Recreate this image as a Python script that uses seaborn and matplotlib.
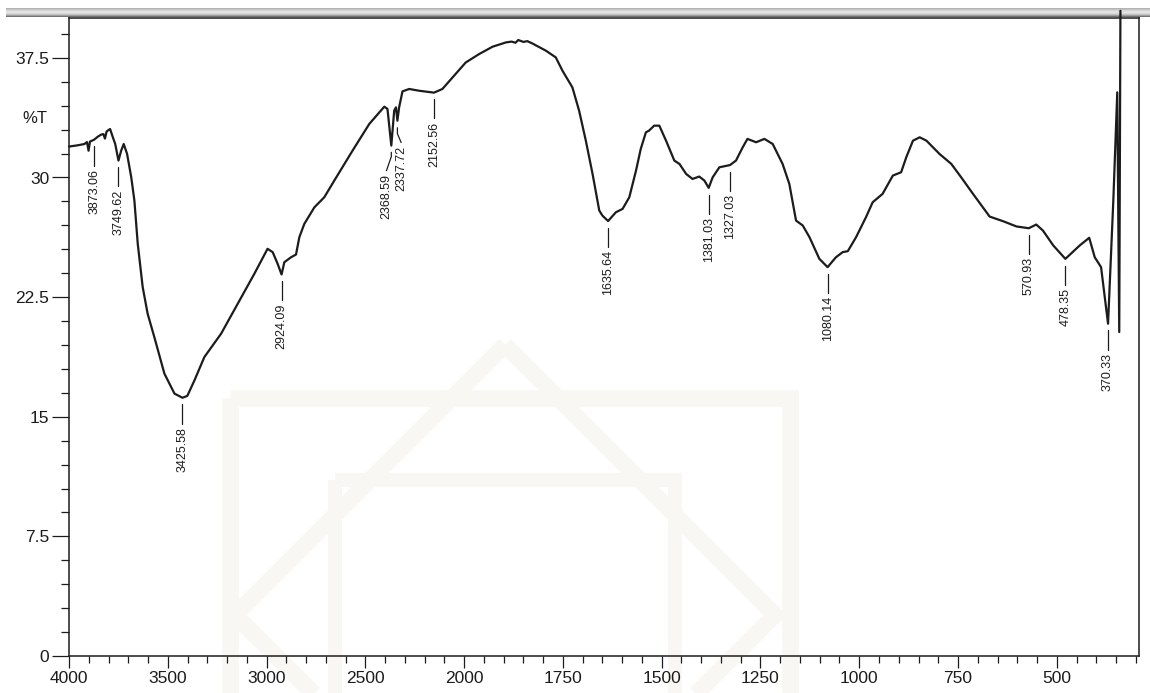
import numpy as np
import pandas as pd
import matplotlib
matplotlib.use("Agg")
import matplotlib.pyplot as plt
import matplotlib.transforms as mtransforms
from matplotlib.patches import Rectangle, Polygon
from matplotlib.ticker import FixedLocator, MultipleLocator, FuncFormatter, NullFormatter
import seaborn as sns

# ---- FTIR spectrum (wavenumber in cm-1, %T) ----
wavenumber = [
    4000, 3955, 3922, 3909, 3901, 3894, 3873.06, 3854, 3837, 3826, 3818, 3810,
    3804, 3792, 3778, 3766, 3749.62, 3736, 3723, 3706, 3685, 3669, 3652, 3627,
    3602, 3568, 3517, 3466, 3425.58, 3401, 3365, 3315, 3230, 3146, 3062, 2995,
    2969, 2944, 2924.09, 2910, 2876, 2851, 2834, 2809, 2758, 2708, 2657, 2565,
    2480, 2404, 2388, 2368.59, 2354, 2345, 2337.72, 2329, 2312, 2278, 2228,
    2152.56, 2110, 2059, 1996, 1962, 1928, 1894, 1880, 1870, 1863, 1850, 1840,
    1827, 1793, 1768, 1751, 1726, 1709, 1692, 1675, 1658, 1650, 1635.64, 1616,
    1599, 1582, 1565, 1553, 1540, 1532, 1519, 1506, 1489, 1468, 1455, 1438,
    1422, 1405, 1392, 1381.03, 1371, 1354, 1327.03, 1312, 1295, 1283, 1261,
    1240, 1219, 1194, 1177, 1160, 1143, 1126, 1101, 1080.14, 1059, 1042, 1029,
    1008, 983, 966, 941, 915, 894, 881, 864, 847, 830, 797, 767, 742, 712, 687,
    670, 636, 602, 570.93, 552, 535, 509, 478.35, 442, 418, 404, 388, 370.33,
    357, 347, 342, 339,
]
transmittance = [
    31.94, 32.02, 32.10, 32.22, 31.68, 32.25, 32.37, 32.56, 32.69, 32.72, 32.44, 32.87,
    32.94, 33.04, 32.52, 32.10, 31.06, 31.68, 32.10, 31.48, 30.02, 28.55, 25.84, 23.13,
    21.46, 19.99, 17.70, 16.45, 16.19, 16.31, 17.28, 18.74, 20.21, 22.09, 23.96, 25.53,
    25.32, 24.59, 23.92, 24.69, 25.00, 25.17, 26.26, 27.09, 28.13, 28.76, 29.81, 31.68,
    33.36, 34.44, 34.30, 32.00, 34.19, 34.40, 33.56, 34.40, 35.40, 35.55, 35.44,
    35.32, 35.55, 36.27, 37.21, 37.74, 38.20, 38.47, 38.52, 38.45, 38.62, 38.50, 38.55,
    38.40, 37.95, 37.53, 36.69, 35.65, 34.19, 32.31, 30.23, 27.93, 27.61, 27.27, 27.82,
    28.03, 28.76, 30.43, 31.79, 32.83, 32.94, 33.25, 33.25, 32.31, 31.06, 30.85, 30.22,
    29.91, 30.06, 29.81, 29.35, 30.01, 30.64, 30.78, 31.06, 31.89, 32.42, 32.21,
    32.42, 32.10, 30.85, 29.60, 27.30, 26.99, 26.26, 24.90, 24.38, 25.00, 25.32, 25.38,
    26.26, 27.51, 28.45, 28.97, 30.12, 30.33, 31.27, 32.31, 32.52, 32.31, 31.48, 30.85,
    30.01, 28.97, 28.13, 27.55, 27.26, 26.93, 26.82, 27.05, 26.67, 25.74, 24.90, 25.74,
    26.22, 25.00, 24.38, 20.83, 28.55, 35.34, 20.31, 40.45,
]

# Peak positions that carry a wavenumber label
peak_labels = [3873.06, 3749.62, 3425.58, 2924.09, 2368.59, 2337.72, 2152.56,
               1635.64, 1381.03, 1327.03, 1080.14, 570.93, 478.35, 370.33]

x_major = [4000, 3500, 3000, 2500, 2000, 1750, 1500, 1250, 1000, 750, 500]
x_minor = list(range(4000, 2000, -100)) + list(range(2000, 299, -50))
y_major = [0, 7.5, 15, 22.5, 30, 37.5]
y_label = "%T"

df = pd.DataFrame({"wavenumber": wavenumber, "T": transmittance})

sns.set_style("ticks")
plt.rcParams["font.family"] = ["Liberation Sans", "DejaVu Sans"]
INK = "#1c1c1c"


def fwd(x):
    x = np.asarray(x, dtype=float)
    return np.where(x >= 2000, x / 2.0 + 1000.0, x)


def inv(u):
    u = np.asarray(u, dtype=float)
    return np.where(u >= 2000, (u - 1000.0) * 2.0, u)


fig = plt.figure(figsize=(11.5, 6.93), dpi=100)

# background layer: window header bar and faint logo
bg = fig.add_axes([0, 0, 1, 1], zorder=0)
bg.axis("off")
grad = np.array([0.70, 0.78, 0.86, 0.90, 0.88, 0.80, 0.66, 0.45])[:, None]
bg.imshow(np.repeat(grad, 2, axis=1), cmap="gray", vmin=0, vmax=1,
          extent=(6, 1150, 17.5, 9), aspect="auto", interpolation="bilinear")
wm = "#f8f7f4"
bg.add_patch(Rectangle((230, 398), 560, 420, fill=False, ec=wm, lw=12, joinstyle="miter"))
bg.add_patch(Polygon([(505, 345), (775, 615), (505, 885), (235, 615)], closed=True,
                     fill=False, ec=wm, lw=12, joinstyle="miter"))
bg.add_patch(Rectangle((335, 480), 340, 330, fill=False, ec=wm, lw=10, joinstyle="miter"))
bg.set_xlim(0, 1150)
bg.set_ylim(693, 0)

ax = fig.add_axes([69 / 1150, 37 / 693, 1070 / 1150, 638 / 693], zorder=1)
ax.patch.set_alpha(0)
ax.set_xscale("function", functions=(fwd, inv))

sns.lineplot(data=df, x="wavenumber", y="T", ax=ax, sort=False, estimator=None,
             color=INK, linewidth=1.6, clip_on=False)

ax.set_xlim(4000, 292)
ax.set_ylim(0, 40)
ax.set_xlabel("")
ax.set_ylabel("")

ax.xaxis.set_major_locator(FixedLocator(x_major))
ax.xaxis.set_minor_locator(FixedLocator(x_minor))
ax.xaxis.set_major_formatter(FuncFormatter(lambda v, p: f"{v:.0f}"))
ax.xaxis.set_minor_formatter(NullFormatter())
ax.yaxis.set_major_locator(FixedLocator(y_major))
ax.yaxis.set_minor_locator(MultipleLocator(1.5))
ax.yaxis.set_major_formatter(FuncFormatter(lambda v, p: f"{v:g}"))

for side in ["left", "bottom", "top", "right"]:
    ax.spines[side].set_visible(True)
    ax.spines[side].set_color(INK)
    ax.spines[side].set_linewidth(1.1)

ax.tick_params(axis="both", which="both", left=True, bottom=True, top=False, right=False)
ax.tick_params(axis="y", which="major", direction="out", length=12.2, width=0.9,
               color=INK, labelsize=12.5, labelcolor=INK, pad=2)
ax.tick_params(axis="y", which="minor", direction="out", length=5.8, width=0.9, color=INK)
ax.tick_params(axis="x", which="major", direction="out", length=8.6, width=0.9,
               color=INK, labelsize=12.5, labelcolor=INK, pad=2)
ax.tick_params(axis="x", which="minor", direction="out", length=5.0, width=0.9, color=INK)

blend = mtransforms.blended_transform_factory(ax.transAxes, ax.transData)
ax.text(-0.032, 33.7, y_label, transform=blend, ha="center", va="center",
        fontsize=12, color=INK)

# peak annotations: short marker below each band, wavenumber written vertically
wn_asc = np.array(wavenumber)[::-1]
t_asc = np.array(transmittance)[::-1]
leaders = {
    2368.59: (24.5, [-0.42, -0.69, -1.57], -1.78),
    2337.72: (-19.0, [-0.44, -0.81, -1.37], -1.58),
}
for wn in peak_labels:
    t = float(np.interp(wn, wn_asc, t_asc))
    if wn in leaders:
        dx, dts, dtxt = leaders[wn]
        xs = [wn, wn, wn + dx]
        ys = [t + d for d in dts]
        ax.plot(xs, ys, color=INK, lw=0.9)
        tx, ty = wn + dx, t + dtxt
    else:
        ax.plot([wn, wn], [t - 0.42, t - 1.62], color=INK, lw=0.9)
        tx, ty = wn, t - 1.82
    ax.text(tx, ty, f"{wn:.2f}", rotation=90, ha="center", va="top",
            fontsize=9, color=INK)

fig.savefig("out.png", dpi=100)
